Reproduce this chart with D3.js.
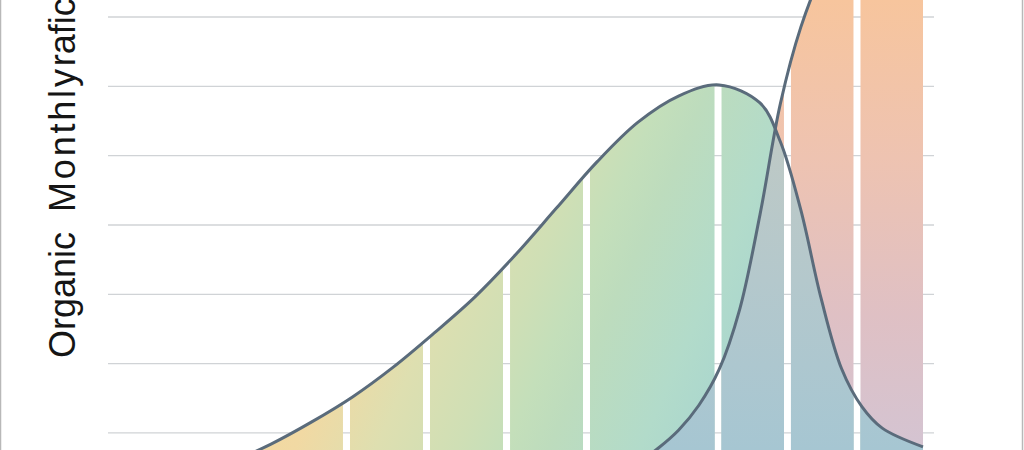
<!DOCTYPE html>
<html>
<head>
<meta charset="utf-8">
<script src="https://cdn.jsdelivr.net/npm/d3@7"></script>
<style>
  html, body { margin: 0; padding: 0; background: #fff; }
  svg { display: block; }
</style>
</head>
<body>
<script>
// week of the period (0..100) and monthly traffic readings
const steadyX = [0, 5, 10, 15, 20, 25, 30, 35, 40, 45, 50, 55, 60, 65, 70, 75, 80, 82.5, 85, 87.5, 90, 92.5, 95, 100];
const steadyTraffic = [160, 260, 400, 580, 840, 1160, 1520, 1950, 2440, 2960, 3570, 4240, 4910, 5480, 5860, 6020, 5760, 5200, 4220, 2940, 1930, 1380, 1070, 800];

const spikeX = [40, 50, 55, 60, 62.5, 65, 67.5, 70, 72.5, 75, 77.5, 80, 82.5, 85, 87.5, 90, 95, 100];
const spikeTraffic = [30, 80, 150, 280, 400, 570, 780, 1040, 1400, 1920, 2780, 4150, 5750, 6850, 7600, 8100, 8700, 9000];

// bin boundaries for the column mask
const binEdges = [0, 29.26, 39.08, 48.9, 58.71, 74.85, 83.37, 91.9, 100];

const yTicks = [1000, 2000, 3000, 4000, 5000, 6000, 7000];
const labelParts = ['Organic  ', 'Monthly', 'rafic'];

const W = 1024, H = 450;
const gap = 7;

const x = d3.scaleLinear().domain([0, 100]).range([108, 923]);
const y = d3.scaleLinear().domain([0, 7000]).range([502.3, 17]);

const steady = steadyX.map((d, i) => ({ x: d, v: steadyTraffic[i] }));
const spike = spikeX.map((d, i) => ({ x: d, v: spikeTraffic[i] }));

const svg = d3.select('body').append('svg')
  .attr('width', W)
  .attr('height', H);

svg.append('rect')
  .attr('width', W).attr('height', H)
  .attr('fill', '#fff');

// frame edges
svg.append('rect')
  .attr('x', 0.5).attr('y', -10)
  .attr('width', 1022).attr('height', H + 20)
  .attr('fill', 'none')
  .attr('stroke', '#b8b8b8')
  .attr('stroke-width', 1.5);

const defs = svg.append('defs');

function gradient(id, x1, y1, x2, y2, stops) {
  const g = defs.append('linearGradient')
    .attr('id', id)
    .attr('gradientUnits', 'userSpaceOnUse')
    .attr('x1', x1).attr('y1', y1)
    .attr('x2', x2).attr('y2', y2);
  g.selectAll('stop')
    .data(stops)
    .enter().append('stop')
    .attr('offset', d => d[0])
    .attr('stop-color', d => d[1]);
}

gradient('steadyFill', 270, 250, 720, 450, [
  [0, '#f4d79e'], [0.21, '#f1d9a3'], [0.36, '#dedfb0'], [0.51, '#cfdfb5'],
  [0.6, '#c4dfba'], [0.68, '#bddcbd'], [0.85, '#b2dbca'], [0.95, '#abd7ce'], [1, '#a8d4d0']
]);
gradient('spikeFill', 0, 0, 0, 450, [
  [0, '#f7c59d'], [0.35, '#eec3b1'], [0.7, '#dfc0c4'], [1, '#d4c4d2']
]);
gradient('overlapFill', 0, 110, 0, 450, [
  [0, '#c0c9c4'], [0.5, '#b4c8cc'], [1, '#a6c6d2']
]);

const curve = d3.curveCatmullRom.alpha(0.5);

const area = d3.area()
  .x(d => x(d.x))
  .y0(y(0))
  .y1(d => y(d.v))
  .curve(curve);

const line = d3.line()
  .x(d => x(d.x))
  .y(d => y(d.v))
  .curve(curve);

// column mask
const bins = d3.pairs(binEdges);
const last = bins.length - 1;
defs.append('clipPath').attr('id', 'columns')
  .selectAll('rect')
  .data(bins)
  .enter().append('rect')
  .attr('x', (d, i) => x(d[0]) + (i === 0 ? 0 : gap / 2))
  .attr('width', (d, i) => x(d[1]) - x(d[0]) - (i === 0 ? 0 : gap / 2) - (i === last ? 0 : gap / 2))
  .attr('y', -100)
  .attr('height', 700);

defs.append('clipPath').attr('id', 'steadyClip')
  .append('path')
  .attr('d', area(steady));

// grid
svg.append('g')
  .selectAll('line')
  .data(yTicks)
  .enter().append('line')
  .attr('x1', 108)
  .attr('x2', 934)
  .attr('y1', d => y(d))
  .attr('y2', d => y(d))
  .attr('stroke', '#d0d3d6')
  .attr('stroke-width', 1.3);

const fills = svg.append('g').attr('clip-path', 'url(#columns)');

fills.append('path')
  .attr('d', area(spike))
  .attr('fill', 'url(#spikeFill)');

fills.append('path')
  .attr('d', area(steady))
  .attr('fill', 'url(#steadyFill)');

fills.append('g')
  .attr('clip-path', 'url(#steadyClip)')
  .append('path')
  .attr('d', area(spike))
  .attr('fill', 'url(#overlapFill)');

// outlines
[steady, spike].forEach(s => {
  svg.append('path')
    .attr('d', line(s))
    .attr('fill', 'none')
    .attr('stroke', '#5a6b7b')
    .attr('stroke-width', 3);
});

// axis title
svg.append('text')
  .attr('transform', 'translate(75,358) rotate(-90)')
  .attr('font-family', '"Liberation Sans", Arial, sans-serif')
  .attr('font-size', '36px')
  .attr('fill', '#151515')
  .style('white-space', 'pre')
  .selectAll('tspan')
  .data(labelParts)
  .enter().append('tspan')
  .attr('letter-spacing', (d, i) => i === 1 ? 2.8 : 0)
  .text(d => d);
</script>
</body>
</html>
